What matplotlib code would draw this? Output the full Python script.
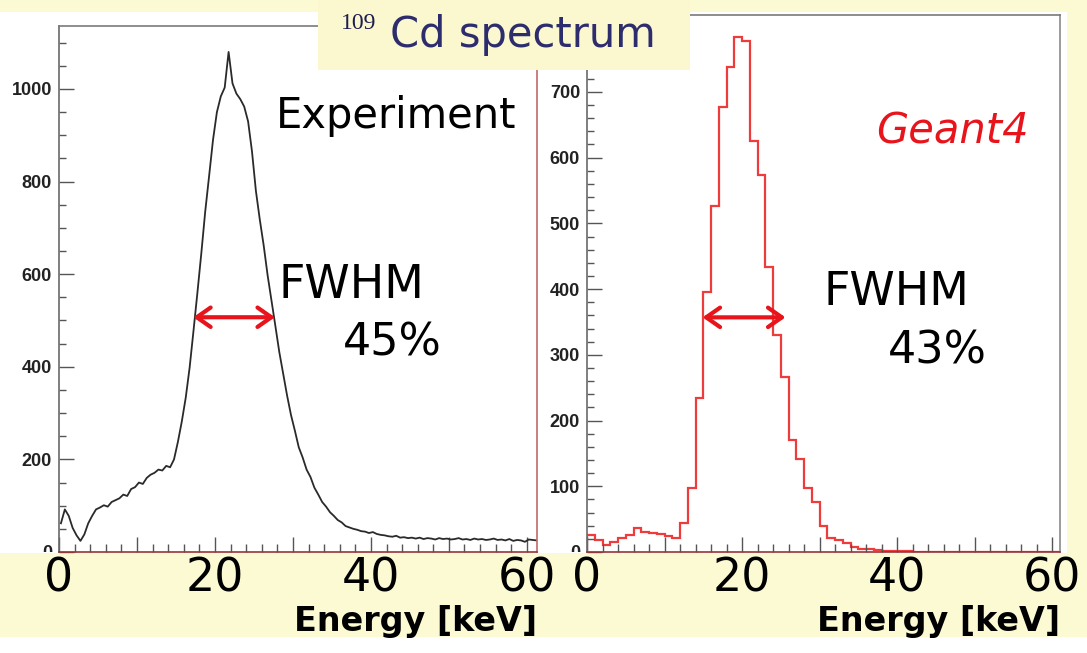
import numpy as np
import matplotlib
matplotlib.use("Agg")
import matplotlib.pyplot as plt
from matplotlib.patches import Rectangle
from matplotlib.ticker import MultipleLocator, FuncFormatter
from matplotlib.transforms import Bbox, TransformedBbox

# Experiment: counts in 0.5 keV bins starting at 0 keV
exp_bin_width = 0.5
exp_counts = [
    62, 92, 78, 52, 36, 24, 38, 62, 78, 92,
    96, 101, 98, 108, 112, 116, 124, 121, 136, 140,
    150, 147, 160, 167, 171, 178, 176, 186, 183, 200,
    238, 282, 333, 398, 478, 560, 645, 735, 812, 890,
    950, 984, 1003, 1080, 1012, 990, 978, 962, 930, 865,
    780, 718, 662, 598, 543, 488, 432, 385, 338, 296,
    262, 226, 204, 178, 162, 139, 124, 108, 98, 86,
    78, 69, 64, 56, 53, 50, 48, 45, 44, 41,
    43, 39, 37, 36, 34, 33, 35, 31, 32, 30,
    31, 29, 31, 28, 30, 29, 27, 30, 28, 29,
    27, 28, 30, 27, 28, 26, 29, 27, 28, 26,
    27, 29, 26, 27, 25, 28, 24, 26, 25, 22,
    27, 26, 25,
]

# Geant4: counts in 1 keV bins starting at 0 keV
g4_bin_width = 1.0
g4_counts = [
    26, 18, 10, 15, 21, 26, 36, 30, 29, 28,
    24, 21, 44, 97, 235, 396, 526, 677, 738, 783,
    778, 626, 574, 433, 330, 267, 171, 142, 97, 76,
    39, 21, 18, 13, 7, 5, 4, 3, 2, 1,
    1, 1, 0, 0, 0, 0, 0, 0, 0, 0,
    0, 0, 0, 0, 0, 0, 0, 0, 0, 0, 0,
]

# FWHM arrows (keV from, keV to, height)
exp_fwhm = (17.2, 27.7, 507)
g4_fwhm = (14.9, 25.6, 357)

W, H = 1087, 653


def fx(px):
    return px / W


def fy(py):
    return 1 - py / H


fig = plt.figure(figsize=(W / 100, H / 100), dpi=100, facecolor="white")

# slide background bands
yellow = "#fcfad3"
for x0, y0, x1, y1 in [(0, 0, 1087, 12), (0, 553, 1087, 637), (1067, 0, 1087, 637)]:
    fig.patches.append(Rectangle((fx(x0), fy(y1)), fx(x1) - fx(x0), fy(y0) - fy(y1),
                                 transform=fig.transFigure, facecolor=yellow,
                                 edgecolor="none", zorder=-5))

ax1 = fig.add_axes([fx(59), fy(552), fx(537) - fx(59), fy(26) - fy(552)])
ax2 = fig.add_axes([fx(587), fy(552), fx(1060) - fx(587), fy(15) - fy(552)])

label_font = dict(family="DejaVu Sans")


def style(ax, xmax, ymax, ymajor, yminor, ylabel_max, right_color):
    ax.set_xlim(0, xmax)
    ax.set_ylim(0, ymax)
    ax.spines["left"].set_color("#6a6a6a")
    ax.spines["top"].set_color("#7a7a7a")
    ax.spines["right"].set_color(right_color)
    ax.spines["bottom"].set_color("#9a3434")
    for s in ax.spines.values():
        s.set_linewidth(1.2)
    ax.xaxis.set_major_locator(MultipleLocator(10))
    ax.xaxis.set_minor_locator(MultipleLocator(2))
    ax.xaxis.set_major_formatter(FuncFormatter(lambda v, p: f"{int(v)}" if v % 20 == 0 else ""))
    ax.yaxis.set_major_locator(MultipleLocator(ymajor))
    ax.yaxis.set_minor_locator(MultipleLocator(yminor))
    ax.yaxis.set_major_formatter(FuncFormatter(lambda v, p: f"{int(v)}" if v <= ylabel_max else ""))
    ax.tick_params(axis="both", which="both", direction="in", color="#555555", width=1)
    ax.tick_params(axis="x", which="major", length=11, pad=3, labelsize=33)
    ax.tick_params(axis="x", which="minor", length=6)
    ax.tick_params(axis="y", which="major", length=11, pad=5, labelsize=13)
    ax.tick_params(axis="y", which="minor", length=5)
    for t in ax.get_yticklabels():
        t.set_family("Liberation Sans")
        t.set_fontweight("bold")
        t.set_color("#222222")
    ax.set_xlabel("Energy [keV]", loc="right", fontsize=24, fontweight="bold", labelpad=3, **label_font)
    # zero label half hidden under the yellow band, as on the slide
    locs = list(ax.yaxis.get_majorticklocs())
    t0 = ax.yaxis.get_major_ticks(len(locs))[locs.index(0)].label1
    t0.set_clip_box(TransformedBbox(Bbox([[-0.3, 0.0], [0.0, 1.0]]), ax.transAxes))
    t0.set_clip_on(True)


style(ax1, 61.3, 1136, 200, 50, 1000, "#c46a6a")
style(ax2, 61.0, 817, 100, 20, 700, "#8a8a8a")

exp_centers = (np.arange(len(exp_counts)) + 0.5) * exp_bin_width
ax1.plot(exp_centers, exp_counts, color="#2a2a2a", lw=1.3)

g4_edges = np.arange(len(g4_counts) + 1) * g4_bin_width
ax2.stairs(g4_counts, g4_edges, color="#ee3b3b", lw=1.6)

arrow_red = "#e8141c"
for ax, (a, b, h) in [(ax1, exp_fwhm), (ax2, g4_fwhm)]:
    ax.annotate("", xy=(a, h), xytext=(b, h),
                arrowprops=dict(arrowstyle="<->,head_length=1.0,head_width=0.7",
                                color=arrow_red, lw=3, shrinkA=0, shrinkB=0))

# annotations
fig.text(fx(276), fy(128), "Experiment", fontsize=30, va="baseline", **label_font)
fig.text(fx(279), fy(298), "FWHM", fontsize=33, va="baseline", **label_font)
fig.text(fx(343), fy(355), "45%", fontsize=32, va="baseline", **label_font)
fig.text(fx(824), fy(305), "FWHM", fontsize=33, va="baseline", **label_font)
fig.text(fx(888), fy(363), "43%", fontsize=32, va="baseline", **label_font)
fig.text(fx(876), fy(143), "Geant4", fontsize=30, style="italic", color="#e8141c",
         va="baseline", **label_font)

# title box
fig.patches.append(Rectangle((fx(318), fy(70)), fx(690) - fx(318), 1 - fy(70),
                             transform=fig.transFigure, facecolor="#fbf8d0",
                             edgecolor="none", zorder=10))
fig.text(fx(341), fy(29), "109", fontsize=17, family="Liberation Serif", color="#1e1e50",
         va="baseline", zorder=11)
fig.text(fx(390), fy(47), "Cd spectrum", fontsize=30, color="#2d2d6e", va="baseline",
         zorder=11, **label_font)

fig.savefig("out.png", dpi=100, facecolor=fig.get_facecolor())
